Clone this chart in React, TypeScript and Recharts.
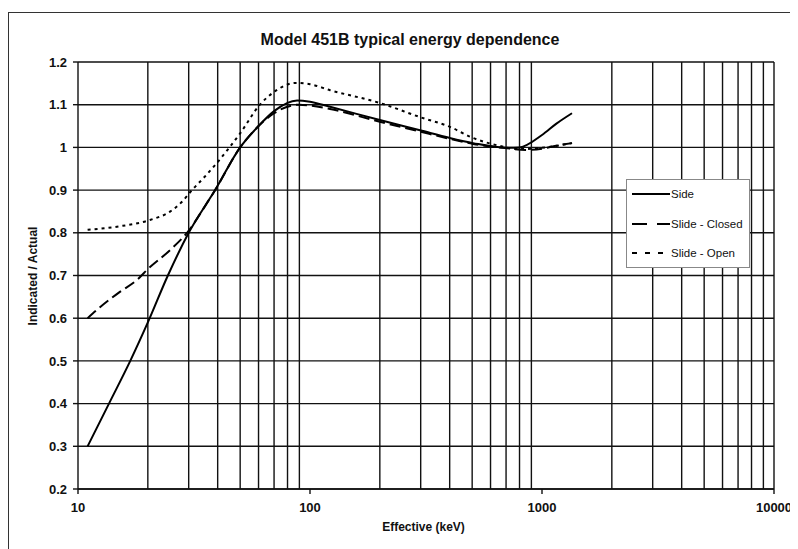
import { CartesianGrid, Line, LineChart, ReferenceLine, XAxis, YAxis } from "recharts";

// Side (solid)
const sideX = [11, 13.6, 16.8, 20, 24.4, 30, 39, 50, 60, 70, 88, 100, 122, 200, 298, 401, 505, 708, 800, 1000, 1150, 1347];
const sideY = [0.3, 0.4, 0.5, 0.59, 0.7, 0.8, 0.9, 1.0, 1.05, 1.085, 1.11, 1.107, 1.095, 1.064, 1.04, 1.022, 1.01, 0.999, 1.0, 1.029, 1.055, 1.08];

// Slide - Closed (dashed)
const closedX = [11, 12.4, 15, 18, 20, 25, 29.5, 36, 39, 50, 60, 70, 90, 100, 122, 200, 298, 401, 505, 708, 850, 1000, 1150, 1347];
const closedY = [0.6, 0.625, 0.66, 0.69, 0.715, 0.76, 0.8, 0.87, 0.9, 1.0, 1.05, 1.08, 1.1, 1.098, 1.09, 1.06, 1.037, 1.02, 1.008, 0.998, 0.994, 0.997, 1.004, 1.01];

// Slide - Open (dotted)
const openX = [11, 15, 20.4, 25, 28, 31, 35, 39.6, 50, 60.8, 70, 87, 100, 122, 200, 298, 401, 505, 640, 801, 1000, 1347];
const openY = [0.807, 0.815, 0.83, 0.85, 0.872, 0.9, 0.93, 0.963, 1.033, 1.1, 1.13, 1.151, 1.148, 1.134, 1.104, 1.071, 1.048, 1.022, 1.005, 0.996, 0.999, 1.01];

const xTicks = [10, 100, 1000, 10000];
const yTicks = [0.2, 0.3, 0.4, 0.5, 0.6, 0.7, 0.8, 0.9, 1, 1.1, 1.2];
const xGrid = [20, 30, 40, 50, 60, 70, 80, 90, 200, 300, 400, 500, 600, 700, 800, 900, 2000, 3000, 4000, 5000, 6000, 7000, 8000, 9000];

const toPoints = (xs: number[], ys: number[]) => xs.map((x, i) => ({ x, y: ys[i] }));

const side = toPoints(sideX, sideY);
const closed = toPoints(closedX, closedY);
const open = toPoints(openX, openY);

const font = "'Liberation Sans', Arial, sans-serif";
const ink = "#111";

export default function App() {
  return (
    <div style={{ position: "relative", width: 790, height: 541, overflow: "hidden", fontFamily: font }}>
      <div
        style={{
          position: "absolute",
          left: 0,
          top: 4,
          width: 820,
          height: 600,
          border: "1.5px solid #333",
          boxSizing: "border-box",
        }}
      />
      <div
        style={{
          position: "absolute",
          left: 0,
          width: 804,
          top: 23,
          textAlign: "center",
          fontWeight: "bold",
          fontSize: 16,
          color: ink,
        }}
      >
        Model 451B typical energy dependence
      </div>
      <LineChart
        width={790}
        height={541}
        margin={{ top: 54, right: 24, left: 0, bottom: 0 }}
        style={{ position: "absolute", left: 0, top: 0 }}
      >
        <CartesianGrid vertical={false} stroke={ink} strokeWidth={1.4} horizontalValues={yTicks} />
        {xGrid.map((v) => (
          <ReferenceLine key={v} x={v} stroke={ink} strokeWidth={1.4} ifOverflow="hidden" />
        ))}
        <ReferenceLine x={10000} stroke={ink} strokeWidth={1.4} />
        <XAxis
          dataKey="x"
          type="number"
          scale="log"
          domain={[10, 10000]}
          ticks={xTicks}
          allowDataOverflow
          height={60}
          tickSize={5}
          tickMargin={9}
          stroke={ink}
          strokeWidth={1.4}
          tick={{ fill: ink, fontSize: 13, fontWeight: "bold", fontFamily: font }}
        />
        <YAxis
          type="number"
          domain={[0.2, 1.2]}
          ticks={yTicks}
          width={70}
          tickSize={5}
          tickMargin={6}
          stroke={ink}
          strokeWidth={1.4}
          tick={{ fill: ink, fontSize: 13, fontWeight: "bold", fontFamily: font }}
        />
        <Line data={side} dataKey="y" type="monotone" stroke="#000" strokeWidth={2} dot={false} isAnimationActive={false} />
        <Line data={closed} dataKey="y" type="monotone" stroke="#000" strokeWidth={2} strokeDasharray="11 5" dot={false} isAnimationActive={false} />
        <Line data={open} dataKey="y" type="monotone" stroke="#000" strokeWidth={2} strokeDasharray="3 4" dot={false} isAnimationActive={false} />
      </LineChart>
      <div
        style={{
          position: "absolute",
          left: 373 - 8,
          width: 101,
          top: 520 - 8,
          textAlign: "center",
          whiteSpace: "nowrap",
          fontWeight: "bold",
          fontSize: 12,
          color: ink,
        }}
      >
        Effective (keV)
      </div>
      <div
        style={{
          position: "absolute",
          left: 33 - 8 - 70,
          top: 277 - 8 - 8,
          width: 140,
          textAlign: "center",
          transform: "rotate(-90deg)",
          whiteSpace: "nowrap",
          fontWeight: "bold",
          fontSize: 12,
          color: ink,
        }}
      >
        Indicated / Actual
      </div>
      <div
        style={{
          position: "absolute",
          left: 626 - 8,
          top: 179 - 8,
          width: 124,
          height: 89,
          boxSizing: "border-box",
          border: "1px solid #888",
          background: "#fff",
          fontSize: 11.5,
          color: ink,
        }}
      >
        {[
          { name: "Side", dash: undefined },
          { name: "Slide - Closed", dash: "15 10" },
          { name: "Slide - Open", dash: "5 8" },
        ].map((s, i) => (
          <div key={s.name} style={{ position: "absolute", left: 5, top: 8 + i * 29.5, display: "flex", alignItems: "center" }}>
            <svg width={38} height={10}>
              <line x1={0} y1={5} x2={38} y2={5} stroke="#000" strokeWidth={2} strokeDasharray={s.dash} />
            </svg>
            <span style={{ marginLeft: 1 }}>{s.name}</span>
          </div>
        ))}
      </div>
    </div>
  );
}
